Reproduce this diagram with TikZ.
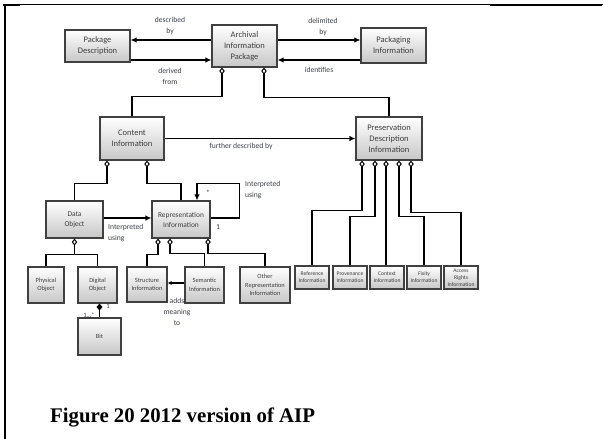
\documentclass[tikz,border=0pt]{standalone}
\usepackage{fontspec}
\setmainfont{Carlito}
\newfontfamily\capfont{Liberation Serif}
\usetikzlibrary{arrows.meta,shadows}
\definecolor{boxtext}{HTML}{3F3F3F}
\definecolor{boxedge}{HTML}{404040}
\definecolor{labeltext}{HTML}{3A3F4A}
\tikzset{
  box/.style={draw=boxedge, line width=1.1pt, top color=white, bottom color=black!22,
    text=boxtext, align=center, inner sep=1pt, font=\fontsize{8.5}{11}\selectfont,
    drop shadow={shadow xshift=1pt, shadow yshift=-1pt, opacity=0.35}},
  midbox/.style={box, font=\fontsize{7.4}{10}\selectfont},
  smallbox/.style={box, font=\fontsize{6.4}{8.5}\selectfont},
  tinybox/.style={box, line width=1.3pt, font=\fontsize{5.6}{7}\selectfont},
  conn/.style={line width=1.4pt, black},
  arr/.style={conn, -{Latex[length=6pt,width=5.5pt]}},
  agg/.style={conn, {Diamond[open,length=7pt,width=5.5pt,line width=1pt]}-},
  comp/.style={conn, {Diamond[length=7pt,width=6pt]}-},
  lbl/.style={text=labeltext, align=center, font=\fontsize{7.6}{11}\selectfont, inner sep=0pt},
  lbll/.style={lbl, align=left},
}
\begin{document}
\begin{tikzpicture}[x=1pt,y=-1pt]
\useasboundingbox (0,0) rectangle (603,439);
% page frame
\draw[line width=1pt] (3,4) -- (603,4);
\draw[line width=2pt] (3,5) -- (20,5);
\draw[line width=2pt] (490,5) -- (602,5);
\draw[line width=2pt] (5,4) -- (5,439);

% labels drawn first so the boxes sit on top
\node[lbl] (ladds) at (177,312) {adds\\meaning\\to};

% top row
\node[box, minimum width=65pt, minimum height=32pt] (pd) at (97.5,46) {Package\\Description};
\node[box, minimum width=65pt, minimum height=42pt] (aip) at (244.5,46) {Archival\\Information\\Package};
\node[box, minimum width=65pt, minimum height=35pt] (pi) at (393.5,45.5) {Packaging\\Information};

% second row
\node[box, minimum width=64pt, minimum height=43pt] (ci) at (132,138.5) {Content\\Information};
\node[box, minimum width=66pt, minimum height=43pt] (pdi) at (389,138.5) {Preservation\\Description\\Information};

% third row
\node[midbox, minimum width=57pt, minimum height=37pt] (do) at (74.5,219.5) {Data\\Object};
\node[midbox, minimum width=58pt, minimum height=37pt] (ri) at (181,219.5) {Representation\\Information};

% fourth row
\node[smallbox, minimum width=36pt, minimum height=36pt] (phys) at (46,285) {Physical\\Object};
\node[smallbox, minimum width=39pt, minimum height=36pt] (dig) at (97.5,285) {Digital\\Object};
\node[smallbox, minimum width=40pt, minimum height=35pt] (stru) at (147,284.5) {Structure\\Information};
\node[smallbox, minimum width=39pt, minimum height=36pt] (sem) at (204.5,285) {Semantic\\Information};
\node[smallbox, minimum width=50pt, minimum height=36pt] (ori) at (265,285) {Other\\Representation\\Information};
\node[smallbox, minimum width=43pt, minimum height=37pt] (bit) at (99.5,336.5) {Bit};

% preservation description parts
\node[tinybox, minimum width=34pt, minimum height=23pt] (ref) at (312,277.5) {Reference\\Information};
\node[tinybox, minimum width=34pt, minimum height=23pt] (prov) at (350,277.5) {Provenance\\Information};
\node[tinybox, minimum width=34pt, minimum height=23pt] (ctx) at (387,277.5) {Context\\Information};
\node[tinybox, minimum width=34pt, minimum height=23pt] (fix) at (424,277.5) {Fixity\\Information};
\node[tinybox, minimum width=34pt, minimum height=23pt] (acc) at (461,277.5) {Access\\Rights\\Information};

% top associations
\draw[arr] ([yshift=6pt]aip.west) -- ([yshift=6pt]aip.west -| pd.east);
\draw[arr] ([yshift=-14pt]pd.east) -- ([yshift=-14pt]pd.east -| aip.west);
\draw[arr] ([yshift=6pt]aip.east) -- ([yshift=6pt]aip.east -| pi.west);
\draw[arr] ([yshift=-14.5pt]pi.west) -- ([yshift=-14.5pt]pi.west -| aip.east);
\node[lbl] (ldesc) at (170,26) {described\\by};
\node[lbl] (lderiv) at (170,76) {derived\\from};
\node[lbl] (ldelim) at (323,27) {delimited\\by};
\node[lbl] (lident) at (319,70) {identifies};

% AIP aggregation
\draw[agg] ([xshift=-22.5pt]aip.south) |- ([yshift=20pt]ci.north) -- (ci.north);
\draw[agg] ([xshift=19.5pt]aip.south) |- ([yshift=19pt]pdi.north) -- (pdi.north);

% content information
\draw[arr] (ci.east) -- (pdi.west);
\node[lbl] (lfurther) at (241,146) {further described by};
\draw[agg] ([xshift=-25pt]ci.south) |- ([yshift=17pt]do.north) -- (do.north);
\draw[agg] ([xshift=15pt]ci.south) |- ([yshift=17pt]ri.north) -- (ri.north);

% data object and representation information
\draw[arr] ([yshift=1.5pt]do.east) -- ([yshift=1.5pt]do.east -| ri.west);
\node[lbll, anchor=west] (lint1) at (108,233) {Interpreted\\using};
\draw[arr] ([yshift=1.5pt]ri.east) -- ++(29,0) |- ([xshift=16pt,yshift=17pt]ri.north) -- ([xshift=16pt]ri.north);
\node[lbll, anchor=west] (lint2) at (245,190) {Interpreted\\using};
\node[lbl] (lstar) at (208,193) {*};
\node[lbl] (lone) at (218,227) {1};

% data object kinds
\draw[agg] (do.south) |- ([yshift=12pt]phys.north) -- (phys.north);
\draw[conn] ([yshift=12pt]phys.north) -| (dig.north);

% representation information parts
\draw[agg] ([xshift=-23pt]ri.south) |- ([yshift=12pt]stru.north) -- (stru.north);
\draw[agg] ([xshift=-11pt]ri.south) |- ([yshift=13pt]sem.north) -- (sem.north);
\draw[agg] ([xshift=27pt]ri.south) |- ([yshift=13pt]ori.north) -- (ori.north);
\draw[conn, -{Latex[length=4pt,width=4pt]}] ([yshift=2pt]sem.west) -- ([yshift=2pt]sem.west -| stru.east);

% digital object composed of bits
\draw[comp] ([xshift=2pt]dig.south) -- ([xshift=2pt]dig.south |- bit.north);
\node[lbl, font=\fontsize{6.5}{8}\selectfont] (lc1) at (108,306) {1};
\node[lbl, font=\fontsize{6.5}{8}\selectfont] (lcn) at (89,315) {1...*};

% preservation description parts
\draw[agg] ([xshift=-27pt]pdi.south) |- ([yshift=55pt]ref.north) -- (ref.north);
\draw[agg] ([xshift=-14pt]pdi.south) |- ([yshift=49pt]prov.north) -- (prov.north);
\draw[agg] ([xshift=-3pt]pdi.south) -- ([xshift=-3pt]pdi.south |- ctx.north);
\draw[agg] ([xshift=10pt]pdi.south) |- ([yshift=49pt]fix.north) -- (fix.north);
\draw[agg] ([xshift=22pt]pdi.south) |- ([yshift=53pt]acc.north) -- (acc.north);

% caption
\node[anchor=base west, inner sep=0pt, font=\capfont\bfseries\fontsize{20.8}{24}\selectfont] (cap) at (50,422) {Figure 20 2012 version of AIP};
\end{tikzpicture}
\end{document}
